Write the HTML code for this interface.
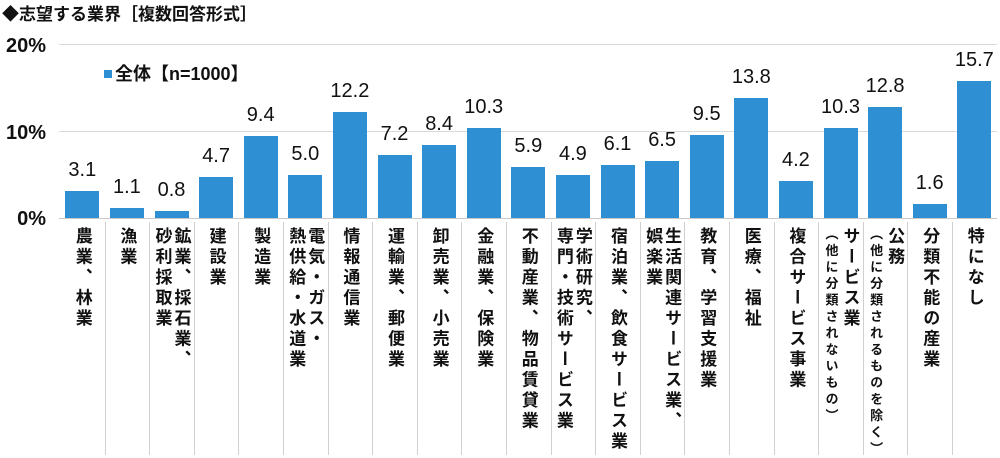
<!DOCTYPE html>
<html><head><meta charset="utf-8"><style>
body{margin:0;width:1000px;height:455px;background:#fff;position:relative;overflow:hidden;font-family:"Liberation Sans","Noto Sans CJK JP",sans-serif;font-weight:bold;color:#111}
.a{position:absolute}
.g{position:absolute;left:59px;width:938px;height:1px;background:#d9d9d9}
.yl{position:absolute;left:0;width:46px;text-align:right;font-size:20px;line-height:20px}
.bar{position:absolute;background:#2e8fd3;width:34px}
.v{position:absolute;width:60px;text-align:center;font-size:20px;line-height:20px;font-weight:normal}
.sep{position:absolute;top:222px;height:233px;width:1px;background:#d0d0d0}
.lab{position:absolute;top:227px;writing-mode:vertical-rl;font-size:17px;line-height:19px;letter-spacing:3.5px;white-space:pre}
.sm{font-size:13px;letter-spacing:3.5px}
</style></head><body>
<div class="a" style="left:2px;top:4px;font-size:17px;line-height:22px">◆志望する業界［複数回答形式］</div>
<div class="g" style="top:44px"></div>
<div class="g" style="top:131px"></div>
<div class="g" style="top:218px;background:#c8c8c8"></div>
<div class="yl" style="top:36px">20%</div>
<div class="yl" style="top:123px">10%</div>
<div class="yl" style="top:209px">0%</div>
<div class="a" style="left:104px;top:70px;width:8px;height:8px;background:#2e8fd3"></div>
<div class="a" style="left:115px;top:63px;font-size:18px;line-height:22px">全体【n=1000】</div>
<div id="c"></div>
<script>
(function(){
var vals=[3.1,1.1,0.8,4.7,9.4,5.0,12.2,7.2,8.4,10.3,5.9,4.9,6.1,6.5,9.5,13.8,4.2,10.3,12.8,1.6,15.7];
var labs=["農業、林業","漁業","鉱業、採石業、\n砂利採取業","建設業","製造業","電気・ガス・\n熱供給・水道業","情報通信業","運輸業、郵便業","卸売業、小売業","金融業、保険業","不動産業、物品賃貸業","学術研究、\n専門・技術サービス業","宿泊業、飲食サービス業","生活関連サービス業、\n娯楽業","教育、学習支援業","医療、福祉","複合サービス事業","サービス業\n<span class='sm'>（他に分類されないもの）</span>","公務\n<span class='sm'>（他に分類されるものを除く）</span>","分類不能の産業","特になし"];
var h="",w=44.6,b0=60;
for(var i=0;i<21;i++){
 var cx=b0+w*(i+0.5),bh=vals[i]*8.7,ty=218-bh;
 h+='<div class="bar" style="left:'+(cx-17)+'px;top:'+ty+'px;height:'+bh+'px"></div>';
 h+='<div class="v" style="left:'+(cx-30)+'px;top:'+(ty-31)+'px">'+vals[i].toFixed(1)+'</div>';
 if(i>0)h+='<div class="sep" style="left:'+Math.round(b0+w*i)+'px"></div>';
 var two=labs[i].indexOf("\n")>=0;
 var lw=two?38:19;
 h+='<div class="lab" style="left:'+(cx-lw/2)+'px">'+labs[i]+'</div>';
}
document.getElementById("c").innerHTML=h;
})();
</script>
</body></html>
